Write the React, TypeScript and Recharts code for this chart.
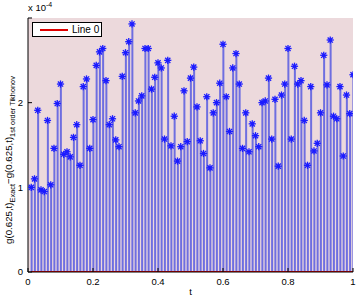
import React from "react";
import {
  ComposedChart,
  Bar,
  Line,
  Scatter,
  XAxis,
  YAxis,
  CartesianGrid,
} from "recharts";

const tValues = [
  0.01, 0.02, 0.03, 0.04, 0.05, 0.06, 0.07, 0.08, 0.09, 0.1,
  0.11, 0.12, 0.13, 0.14, 0.15, 0.16, 0.17, 0.18, 0.19, 0.2,
  0.21, 0.22, 0.23, 0.24, 0.25, 0.26, 0.27, 0.28, 0.29, 0.3,
  0.31, 0.32, 0.33, 0.34, 0.35, 0.36, 0.37, 0.38, 0.39, 0.4,
  0.41, 0.42, 0.43, 0.44, 0.45, 0.46, 0.47, 0.48, 0.49, 0.5,
  0.51, 0.52, 0.53, 0.54, 0.55, 0.56, 0.57, 0.58, 0.59, 0.6,
  0.61, 0.62, 0.63, 0.64, 0.65, 0.66, 0.67, 0.68, 0.69, 0.7,
  0.71, 0.72, 0.73, 0.74, 0.75, 0.76, 0.77, 0.78, 0.79, 0.8,
  0.81, 0.82, 0.83, 0.84, 0.85, 0.86, 0.87, 0.88, 0.89, 0.9,
  0.91, 0.92, 0.93, 0.94, 0.95, 0.96, 0.97, 0.98, 0.99, 1.0,
];

// difference values in units of 1e-4
const diffValues = [
  1.0, 1.1, 1.91, 0.97, 0.95, 1.79, 1.03, 1.46, 1.99, 2.22,
  1.39, 1.42, 1.36, 1.59, 1.74, 1.26, 2.19, 2.28, 1.46, 1.8,
  2.44, 2.6, 2.64, 2.26, 1.74, 1.81, 1.56, 1.48, 2.31, 2.59,
  2.72, 2.93, 1.88, 2.02, 2.08, 2.64, 2.64, 2.16, 2.3, 2.47,
  2.41, 1.57, 2.5, 1.49, 1.84, 1.31, 1.48, 2.14, 1.54, 2.29,
  2.42, 1.95, 1.55, 1.4, 2.07, 1.23, 1.88, 2.0, 2.23, 2.69,
  2.07, 1.66, 2.41, 2.58, 2.22, 1.46, 1.88, 1.42, 1.75, 1.61,
  1.48, 2.0, 2.02, 2.29, 1.57, 2.04, 1.25, 2.09, 2.22, 2.64,
  1.57, 2.43, 2.22, 2.26, 1.79, 1.26, 2.19, 1.43, 1.52, 1.88,
  2.56, 2.21, 2.74, 1.84, 1.81, 2.19, 1.37, 2.09, 1.87, 2.33,
];

const zeroLine = tValues.map(() => 0);

const xTicks = [0, 0.2, 0.4, 0.6, 0.8, 1];
const yTicks = [0, 1, 2, 3];
const yTickLabels = ["0", "1", "2", ""];
const legendLabel = "Line 0";

const data = tValues.map((t, i) => ({ t, diff: diffValues[i], zero: zeroLine[i] }));

const FONT = "'Liberation Sans', Arial, Helvetica, sans-serif";

const Asterisk = (props: any) => {
  const { cx, cy } = props;
  if (cx == null || cy == null) return null;
  const r = 3.6;
  const d = r * 0.72;
  return (
    <g>
      <circle cx={cx} cy={cy} r={1.8} fill="#2a2aff" />
      <line x1={cx - r} y1={cy} x2={cx + r} y2={cy} stroke="#1c1cff" strokeWidth={1.3} />
      <line x1={cx} y1={cy - r} x2={cx} y2={cy + r} stroke="#1c1cff" strokeWidth={1.3} />
      <line x1={cx - d} y1={cy - d} x2={cx + d} y2={cy + d} stroke="#1c1cff" strokeWidth={1.3} />
      <line x1={cx - d} y1={cy + d} x2={cx + d} y2={cy - d} stroke="#1c1cff" strokeWidth={1.3} />
    </g>
  );
};

const YTick = (props: any) => {
  const { y, payload } = props;
  const idx = yTicks.indexOf(payload.value);
  return (
    <text x={23} y={y} dy={3.4} textAnchor="end" fontFamily={FONT} fontSize={9.5} fill="#000">
      {idx >= 0 ? yTickLabels[idx] : String(payload.value)}
    </text>
  );
};

export default function App() {
  return (
    <div style={{ position: "absolute", left: 0, top: 0, width: 357, height: 298, background: "#fff" }}>
      <ComposedChart
        width={357}
        height={298}
        data={data}
        margin={{ top: 18, right: 4, bottom: 0, left: 0 }}
      >
        <CartesianGrid horizontal={false} vertical={false} fill="#ecd9dc" />
        <XAxis
          xAxisId="b"
          dataKey="t"
          type="number"
          domain={[0, 1]}
          ticks={xTicks}
          interval={0}
          tickFormatter={(v: number) => String(v)}
          height={26}
          axisLine={{ stroke: "#000", strokeWidth: 1 }}
          tickLine={{ stroke: "#000" }}
          tickSize={-4}
          tickMargin={10}
          tick={{ fontSize: 9.5, fill: "#000", fontFamily: FONT }}
          label={{ value: "t", position: "insideBottom", offset: 3, fontSize: 9.5, fill: "#000", fontFamily: FONT }}
          allowDataOverflow
        />
        <XAxis
          xAxisId="top"
          dataKey="t"
          type="number"
          orientation="top"
          domain={[0, 1]}
          ticks={xTicks}
          interval={0}
          height={0}
          tick={false}
          tickSize={-4}
          axisLine={{ stroke: "#000", strokeWidth: 1 }}
          tickLine={{ stroke: "#000" }}
        />
        <YAxis
          yAxisId="l"
          type="number"
          domain={[0, 3]}
          ticks={yTicks}
          interval={0}
          width={28}
          axisLine={{ stroke: "#000", strokeWidth: 1 }}
          tickLine={{ stroke: "#000" }}
          tickSize={-4}
          tickMargin={9}
          tick={<YTick />}
          allowDataOverflow
        />
        <YAxis
          yAxisId="r"
          orientation="right"
          type="number"
          domain={[0, 3]}
          ticks={yTicks}
          interval={0}
          width={0}
          tick={false}
          tickSize={-4}
          axisLine={{ stroke: "#000", strokeWidth: 1 }}
          tickLine={{ stroke: "#000" }}
        />
        <Bar
          xAxisId="b"
          yAxisId="l"
          dataKey="diff"
          barSize={2}
          fill="#6e6ee0"
          isAnimationActive={false}
        />
        <Line
          xAxisId="b"
          yAxisId="l"
          dataKey="zero"
          stroke="#e00000"
          strokeWidth={2}
          dot={false}
          isAnimationActive={false}
        />
        <Scatter
          xAxisId="b"
          yAxisId="l"
          dataKey="diff"
          shape={<Asterisk />}
          isAnimationActive={false}
        />
      </ComposedChart>
      <svg
        width={20}
        height={298}
        style={{ position: "absolute", left: 0, top: 0, overflow: "visible" }}
      >
        <text
          x={12}
          y={160}
          transform="rotate(-90, 12, 160)"
          textAnchor="middle"
          fontFamily={FONT}
          fontSize={9.7}
          fill="#000"
        >
          <tspan>g(0.625,t)</tspan>
          <tspan fontSize={7.4} dy={2.5}>Exact</tspan>
          <tspan dy={-2.5}>−g(0.625,t)</tspan>
          <tspan fontSize={7.4} dy={2.5}>1st order Tikhonov</tspan>
        </text>
      </svg>
      <div
        style={{
          position: "absolute",
          left: 28,
          top: 2,
          fontFamily: FONT,
          fontSize: 9.5,
          color: "#000",
          lineHeight: "12px",
        }}
      >
        x 10<sup style={{ fontSize: 7, verticalAlign: "top", position: "relative", top: -3 }}>-4</sup>
      </div>
      <div
        style={{
          position: "absolute",
          left: 32,
          top: 22,
          width: 70,
          height: 15,
          border: "1px solid #000",
          background: "#fff",
          display: "flex",
          alignItems: "center",
          fontFamily: FONT,
          fontSize: 10,
          color: "#000",
          boxSizing: "border-box",
        }}
      >
        <div style={{ width: 28, height: 2, background: "#e00000", marginLeft: 7, marginRight: 4 }} />
        <span>{legendLabel}</span>
      </div>
    </div>
  );
}
